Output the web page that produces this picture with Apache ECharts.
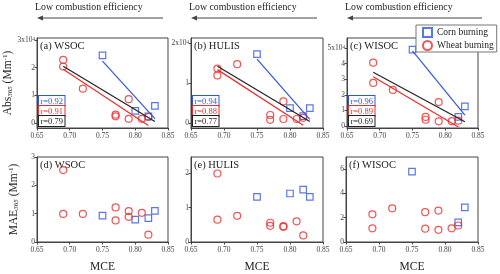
<!DOCTYPE html>
<html><head><meta charset="utf-8">
<script src="https://cdn.jsdelivr.net/npm/echarts@6/dist/echarts.min.js"></script>
<style>html,body{margin:0;padding:0;background:#fff}#c{width:500px;height:274px}</style>
</head><body><div id="c"></div>
<script>
// ---- data ----
const mceWheat = [0.69,0.69,0.72,0.77,0.77,0.79,0.79,0.81,0.82];
const mceCorn = [0.75,0.80,0.82,0.83];
const mceCornWisoc = [0.75,0.82,0.83];
// Abs365 (x10^4 Mm-1)
const absWsocWheat = [2.28,2.04,1.24,0.30,0.24,0.86,0.15,0.15,0.22];
const absWsocCorn = [2.44,0.44,0.24,0.62];
const absHulisWheat = [1.36,1.19,1.47,0.20,0.08,0.54,0.10,0.10,0.13];
const absHulisCorn = [1.72,0.37,0.17,0.37];
const absWisocWheat = [4.06,2.76,2.31,0.58,0.40,1.53,0.30,0.31,0.34];
const absWisocCorn = [4.90,0.58,1.26];
// MAE365
const maeWsocWheat = [2.54,0.99,0.99,1.22,0.76,1.09,0.89,1.03,0.26];
const maeWsocCorn = [0.93,0.79,0.84,1.10];
const maeHulisWheat = [1.99,0.65,0.76,0.56,0.47,0.46,0.44,0.60,0.19];
const maeHulisCorn = [1.31,1.41,1.52,1.31];
const maeWisocWheat = [2.28,1.13,2.77,2.46,1.10,2.59,1.00,1.13,1.36];
const maeWisocCorn = [5.79,1.62,2.85];
// correlation labels (corn, wheat, all)
const rWsoc = ['r=0.92','r=0.91','r=0.79'];
const rHulis = ['r=0.94','r=0.88','r=0.77'];
const rWisoc = ['r=0.96','r=0.89','r=0.69'];
const panelTitles = ['(a) WSOC','(b) HULIS','(c) WISOC','(d) WSOC','(e) HULIS','(f) WISOC'];
const xTicks = [0.65,0.70,0.75,0.80,0.85];
const yTicks = [[0,1,2,3],[0,1,2],[0,1,2,3,4,5],[0,1,2,3],[0,1,2],[0,2,4,6]];
const topText = 'Low combustion efficiency';
const legendNames = ['Corn burning','Wheat burning'];

// ---- styling ----
const FONT = 'Liberation Serif';
const BLUE = '#2f55e6', RED = '#ee2b2b', BLACK = '#222';
const AX = '#444';

const panels = [
  {corn:[mceCorn,absWsocCorn], wheat:[mceWheat,absWsocWheat], r:rWsoc, exp:true},
  {corn:[mceCorn,absHulisCorn], wheat:[mceWheat,absHulisWheat], r:rHulis, exp:true},
  {corn:[mceCornWisoc,absWisocCorn], wheat:[mceWheat,absWisocWheat], r:rWisoc, exp:true},
  {corn:[mceCorn,maeWsocCorn], wheat:[mceWheat,maeWsocWheat]},
  {corn:[mceCorn,maeHulisCorn], wheat:[mceWheat,maeHulisWheat]},
  {corn:[mceCornWisoc,maeWisocCorn], wheat:[mceWheat,maeWisocWheat]},
];
const grids = [
  {left:37, top:38, width:131, height:90},
  {left:191, top:38, width:132, height:90},
  {left:347, top:38, width:131, height:90},
  {left:37, top:157, width:131, height:90},
  {left:191, top:157, width:132, height:90},
  {left:346, top:157, width:132, height:90},
];
const yRange = [[-0.18,3.07],[-0.125,2.125],[-0.13,5.64],[0,3],[0,2.47],[0,7]];

function zip(xs, ys){ return xs.map((x,i)=>[x,ys[i]]); }
function fit(xs, ys){
  const n = xs.length;
  const mx = xs.reduce((a,b)=>a+b,0)/n, my = ys.reduce((a,b)=>a+b,0)/n;
  let sxy=0,sxx=0;
  for(let i=0;i<n;i++){ sxy+=(xs[i]-mx)*(ys[i]-my); sxx+=(xs[i]-mx)*(xs[i]-mx); }
  const b = sxy/sxx, a = my-b*mx;
  const x0 = Math.min(...xs), x1 = Math.max(...xs);
  return [[x0,a+b*x0],[x1,a+b*x1]];
}

const option = {
  animation:false,
  backgroundColor:'#fff',
  textStyle:{fontFamily:FONT},
  grid: grids.map(g=>Object.assign({show:true, borderColor:AX, borderWidth:1, backgroundColor:'transparent'}, g)),
  xAxis: grids.map((g,i)=>({
    gridIndex:i, type:'value', min:0.65, max:0.85,
    name: i>=3 ? 'MCE' : '', nameLocation:'middle', nameGap:19,
    nameTextStyle:{fontFamily:FONT, fontSize:11.5, color:'#222'},
    axisLine:{onZero:false, lineStyle:{color:AX}},
    axisTick:{show:true, length:2.5, lineStyle:{color:AX}, customValues:xTicks},
    axisLabel:{fontFamily:FONT, fontSize:7.5, color:'#444', margin:4, customValues:xTicks,
      formatter:v=>v.toFixed(2)},
    splitLine:{show:false}
  })),
  yAxis: grids.map((g,i)=>{
    const t = yTicks[i], top = t[t.length-1];
    const exp = panels[i].exp;
    return {
      gridIndex:i, type:'value', min:yRange[i][0], max:yRange[i][1],
      name: i===0 ? 'Abs{sub|365} (Mm{sup|-1})' : (i===3 ? 'MAE{sub|365} (Mm{sup|-1})' : ''),
      nameLocation:'middle', nameGap:17,
      nameTextStyle:{fontFamily:FONT, fontSize:11.5, color:'#222',
        rich:{sub:{fontFamily:FONT, fontSize:7, fontStyle:'italic', verticalAlign:'bottom', lineHeight:8, color:'#222'},
              sup:{fontFamily:FONT, fontSize:7, verticalAlign:'top', lineHeight:8, color:'#222'}}},
      axisLine:{show:true, onZero:false, lineStyle:{color:AX}},
      axisTick:{show:true, length:2.5, lineStyle:{color:AX}, customValues:t},
      axisLabel:{fontFamily:FONT, fontSize:7.5, color:'#444', margin:2, customValues:t,
        formatter: v => (exp && v===top) ? (v+'x10{sup|4}') : String(v),
        rich:{sup:{fontFamily:FONT, fontSize:5, verticalAlign:'top', color:'#444', lineHeight:6}}},
      splitLine:{show:false}
    };
  }),
  legend:{
    orient:'vertical', left:416, top:25, data:legendNames,
    borderColor:'#777', borderWidth:1, backgroundColor:'#fff',
    padding:[2,3,1,6], itemGap:2, itemWidth:9, itemHeight:9, itemTextGap:8,
    textStyle:{fontFamily:FONT, fontSize:9.5, color:'#222'}
  },
  series: [],
  graphic: []
};

panels.forEach((p,i)=>{
  option.series.push({
    name:'Corn burning', type:'scatter', xAxisIndex:i, yAxisIndex:i, symbol:'rect', symbolSize:6.5,
    itemStyle:{color:'rgba(255,255,255,0)', borderColor:BLUE, borderWidth:1.2},
    data: zip(p.corn[0], p.corn[1]), z:3
  });
  option.series.push({
    name:'Wheat burning', type:'scatter', xAxisIndex:i, yAxisIndex:i, symbol:'circle', symbolSize:7,
    itemStyle:{color:'rgba(255,255,255,0)', borderColor:RED, borderWidth:1.2},
    data: zip(p.wheat[0], p.wheat[1]), z:3
  });
  if (i<3){
    const allX = p.corn[0].concat(p.wheat[0]), allY = p.corn[1].concat(p.wheat[1]);
    [[p.corn, BLUE],[p.wheat, RED],[[allX,allY], BLACK]].forEach(([d,c],k)=>{
      option.series.push({
        name:'fit'+i+'_'+k, type:'line', xAxisIndex:i, yAxisIndex:i, symbol:'none', silent:true,
        lineStyle:{color:c, width:1.2}, data: fit(d[0], d[1]), z:4
      });
    });
    const colors = [BLUE, RED, BLACK];
    p.r.forEach((txt,k)=>{
      option.graphic.push({
        type:'text', left: grids[i].left+1, top: 95+k*10, z:10,
        style:{text:txt, fill:colors[k], fontFamily:FONT, fontSize:8.5,
          backgroundColor:'#fff', borderColor:colors[k], borderWidth:1, padding:[1,1.5,0,1.5]}
      });
    });
    // top annotation
    const gl = grids[i].left;
    const arrowEnd = [163, 317, 482][i];
    option.graphic.push({type:'text', left: gl-2, top:2,
      style:{text:topText, fill:'#222', fontFamily:FONT, fontSize:9.8}});
    option.graphic.push({type:'line', shape:{x1:gl+4, y1:18, x2:arrowEnd, y2:18},
      style:{stroke:'#444', lineWidth:1.2}});
    option.graphic.push({type:'polygon', shape:{points:[[gl,18],[gl+6,15.5],[gl+6,20.5]]},
      style:{fill:'#444'}});
  }
  option.graphic.push({type:'text', left: grids[i].left+3, top: grids[i].top+3,
    style:{text:panelTitles[i], fill:'#222', fontFamily:FONT, fontSize:10.5}});
});

const chart = echarts.init(document.getElementById('c'), null, {renderer:'canvas'});
chart.setOption(option);
</script>
</body></html>
